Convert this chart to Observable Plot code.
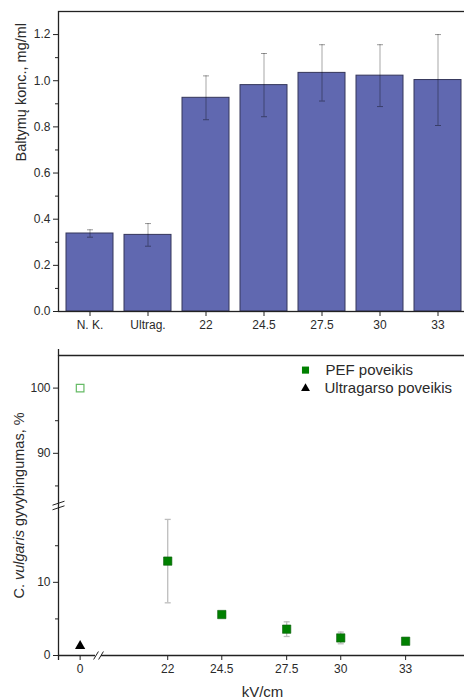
<!DOCTYPE html>
<html><head><meta charset="utf-8">
<script src="https://cdn.jsdelivr.net/npm/d3@7"></script>
<script src="https://cdn.jsdelivr.net/npm/@observablehq/plot@0.6"></script>
<style>
html,body{margin:0;padding:0;background:#fff;overflow:hidden;}
#top,#bottom{display:block;line-height:0;}
svg{display:block;}
</style></head><body>
<div id="top"></div><div id="bottom"></div>
<script>
// ---- top panel data ----
const categories = ["N. K.", "Ultrag.", "22", "24.5", "27.5", "30", "33"];
const protein = [0.338, 0.332, 0.926, 0.981, 1.034, 1.022, 1.003];
const proteinErr = [0.016, 0.049, 0.095, 0.137, 0.122, 0.134, 0.197];
const proteinMajorTicks = [0, 0.2, 0.4, 0.6, 0.8, 1.0, 1.2];
const proteinMinorTicks = [0.1, 0.3, 0.5, 0.7, 0.9, 1.1];
const proteinTitle = "Baltymų konc., mg/ml";

// ---- bottom panel data ----
const kv = [22, 24.5, 27.5, 30, 33];
const viability = [12.9, 5.6, 3.6, 2.4, 1.95];
const viabilityErr = [5.7, 0.3, 1.0, 0.8, 0.2];
const controlKv = [0];
const controlViability = [100];
const ultraKv = [0];
const ultraViability = [1.3];
const kvTicks = [0, 22, 24.5, 27.5, 30, 33];
const viabMajorTicks = [0, 10, 90, 100];
const viabMinorTicks = [5, 15, 85, 95];
const legendLabels = ["PEF poveikis", "Ultragarso poveikis"];
const viabTitleParts = ["C. ", "vulgaris", " gyvybingumas, %"];
const kvTitle = "kV/cm";

const FONT = "'Liberation Sans', Arial, Helvetica, sans-serif";
const INK = "#222";
const LABEL = "#2a2a2a";

// custom symbols
const cap = {draw(ctx, size) { const r = Math.sqrt(size / Math.PI); ctx.moveTo(-r, 0); ctx.lineTo(r, 0); }};
const slashX = {draw(ctx, size) { const r = Math.sqrt(size / Math.PI); ctx.moveTo(-r * 0.6, r); ctx.lineTo(r * 0.6, -r); }};
const slashY = {draw(ctx, size) { const r = Math.sqrt(size / Math.PI); ctx.moveTo(-r, r / 3); ctx.lineTo(r, -r / 3); }};

// ---------- top chart ----------
const bars = categories.map((c, i) => ({cat: c, value: protein[i], err: proteinErr[i]}));
const topChart = Plot.plot({
  width: 464, height: 340,
  marginLeft: 58, marginRight: -4, marginTop: 11, marginBottom: 29,
  style: {fontFamily: FONT, fontSize: "12px", color: INK, background: "#fff", overflow: "hidden"},
  x: {domain: categories, paddingInner: 0.19, paddingOuter: 0.09, label: null},
  y: {domain: [0, 1.3], label: null},
  marks: [
    Plot.barY(bars, {x: "cat", y: "value", fill: "#6068b0", stroke: "#34365a", strokeWidth: 1}),
    Plot.ruleX(bars, {x: "cat", y1: d => d.value - d.err, y2: d => d.value + d.err, stroke: "#000", strokeOpacity: 0.35, strokeWidth: 1}),
    Plot.dot(bars, {x: "cat", y: d => d.value + d.err, symbol: cap, r: 3, fill: "none", stroke: "#000", strokeOpacity: 0.4, strokeWidth: 1}),
    Plot.dot(bars, {x: "cat", y: d => d.value - d.err, symbol: cap, r: 3, fill: "none", stroke: "#000", strokeOpacity: 0.4, strokeWidth: 1}),
    Plot.frame({stroke: INK, strokeWidth: 1.3}),
    Plot.axisY(proteinMajorTicks, {tickSize: 5, tickPadding: 3, tickFormat: d => d.toFixed(1), fontSize: 12, fill: LABEL}),
    Plot.axisY(proteinMinorTicks, {tickSize: 3, tickFormat: () => ""}),
    Plot.axisX({tickSize: 5, tickPadding: 4, fontSize: 12, fill: LABEL}),
    Plot.text([proteinTitle], {text: d => d, frameAnchor: "left", dx: -37, rotate: -90, lineAnchor: "middle", fontSize: 14.5, fill: LABEL})
  ]
});
document.getElementById("top").appendChild(topChart);

// ---------- bottom chart ----------
const W2 = 464, H2 = 359, mTop = 15, mBottom = 44, mLeft = 58, xRight = 470;
const yBreakLo = 20.5, yBreakHi = 82, yMax = 105;
const yBreakPx = (mTop + (H2 - mBottom)) / 2;
const xMin = -1, xBreakLo = 0.85, xBreakHi = 18.8, xMax = 36;
const kx = (xRight - mLeft) / ((xBreakLo - xMin) + (xMax - xBreakHi));
const xBreakPx = mLeft + kx * (xBreakLo - xMin);

const pef = kv.map((k, i) => ({x: k, y: viability[i], e: viabilityErr[i]}));
const control = controlKv.map((k, i) => ({x: k, y: controlViability[i]}));
const ultra = ultraKv.map((k, i) => ({x: k, y: ultraViability[i]}));
const topBorder = [{x: xMin, y: yMax}, {x: xMax, y: yMax}];
const green = "#008000";

const bottomChart = Plot.plot({
  width: W2, height: H2,
  marginLeft: mLeft, marginRight: W2 - xRight, marginTop: mTop, marginBottom: mBottom,
  style: {fontFamily: FONT, fontSize: "12px", color: INK, background: "#fff", overflow: "hidden"},
  x: {type: "linear", domain: [xMin, xBreakLo, xBreakHi, xMax], range: [mLeft, xBreakPx, xBreakPx, xRight], label: null},
  y: {type: "linear", domain: [0, yBreakLo, yBreakHi, yMax], range: [H2 - mBottom, yBreakPx, yBreakPx, mTop], label: null},
  marks: [
    // frame pieces
    Plot.line(topBorder, {x: "x", y: "y", stroke: INK, strokeWidth: 1.3}),
    Plot.ruleX([xMin], {y1: 0, y2: yBreakLo, insetTop: 5, stroke: INK, strokeWidth: 1.3}),
    Plot.ruleX([xMin], {y1: yBreakHi, y2: yMax, insetBottom: 6, stroke: INK, strokeWidth: 1.3}),
    Plot.ruleY([0], {x1: xMin, x2: xBreakLo, insetRight: 3, stroke: INK, strokeWidth: 1.3}),
    Plot.ruleY([0], {x1: xBreakHi, x2: xMax, insetLeft: 3, stroke: INK, strokeWidth: 1.3}),
    // break marks
    Plot.dot([{x: xMin, y: yBreakLo}], {x: "x", y: "y", symbol: slashY, r: 6, dy: -2.3, fill: "none", stroke: INK, strokeWidth: 1}),
    Plot.dot([{x: xMin, y: yBreakLo}], {x: "x", y: "y", symbol: slashY, r: 6, dy: 2.3, fill: "none", stroke: INK, strokeWidth: 1}),
    Plot.dot([{x: xBreakLo, y: 0}], {x: "x", y: "y", symbol: slashX, r: 4, dx: -2.5, fill: "none", stroke: INK, strokeWidth: 1}),
    Plot.dot([{x: xBreakLo, y: 0}], {x: "x", y: "y", symbol: slashX, r: 4, dx: 2.5, fill: "none", stroke: INK, strokeWidth: 1}),
    // axes
    Plot.axisY(viabMajorTicks, {tickSize: 5, tickPadding: 3, fontSize: 12, fill: LABEL}),
    Plot.axisY(viabMinorTicks, {tickSize: 3, tickFormat: () => ""}),
    Plot.axisX(kvTicks, {tickSize: 5, tickPadding: 4, fontSize: 12, fill: LABEL, tickFormat: d => String(d)}),
    // error bars
    Plot.ruleX(pef, {x: "x", y1: d => d.y - d.e, y2: d => d.y + d.e, stroke: "#bdbdbd", strokeWidth: 1.3}),
    Plot.dot(pef, {x: "x", y: d => d.y + d.e, symbol: cap, r: 3, fill: "none", stroke: "#bdbdbd", strokeWidth: 1.3}),
    Plot.dot(pef, {x: "x", y: d => d.y - d.e, symbol: cap, r: 3, fill: "none", stroke: "#bdbdbd", strokeWidth: 1.3}),
    // points
    Plot.dot(control, {x: "x", y: "y", symbol: "square", r: 4.3, fill: "#fff", stroke: "#66bb66", strokeWidth: 1.2}),
    Plot.dot(pef, {x: "x", y: "y", symbol: "square", r: 4.7, fill: green, stroke: "#0b5e0b", strokeWidth: 0.6}),
    Plot.dot(ultra, {x: "x", y: "y", symbol: "triangle", r: 3.8, fill: "#000"}),
    // legend
    Plot.dot([legendLabels[0]], {frameAnchor: "top-left", dx: 247, dy: 14.6, symbol: "square", r: 4, fill: green}),
    Plot.dot([legendLabels[1]], {frameAnchor: "top-left", dx: 247, dy: 33, symbol: "triangle", r: 3.3, fill: "#000"}),
    Plot.text([legendLabels[0]], {text: d => d, frameAnchor: "top-left", dx: 267, dy: 14.6, textAnchor: "start", lineAnchor: "middle", fontSize: 15, fill: LABEL}),
    Plot.text([legendLabels[1]], {text: d => d, frameAnchor: "top-left", dx: 266, dy: 33, textAnchor: "start", lineAnchor: "middle", fontSize: 15, fill: LABEL}),
    // titles
    Plot.text([viabTitleParts.join("")], {text: d => d, frameAnchor: "left", dx: -39, rotate: -90, textAnchor: "middle", lineAnchor: "middle", fontSize: 14.5, fill: LABEL}),
    Plot.text([kvTitle], {text: d => d, frameAnchor: "bottom", dx: -2, dy: 36.7, lineAnchor: "middle", fontSize: 15, fill: LABEL})
  ]
});
// italicize species name
d3.select(bottomChart).selectAll("text").filter(function() { return this.textContent === viabTitleParts.join(""); })
  .each(function() {
    const t = d3.select(this);
    t.text(null).attr("text-anchor", "middle");
    viabTitleParts.forEach((p, i) => {
      const s = t.append("tspan").text(p);
      if (i === 1) s.attr("font-style", "italic");
    });
  });
document.getElementById("bottom").appendChild(bottomChart);
</script>
</body></html>
